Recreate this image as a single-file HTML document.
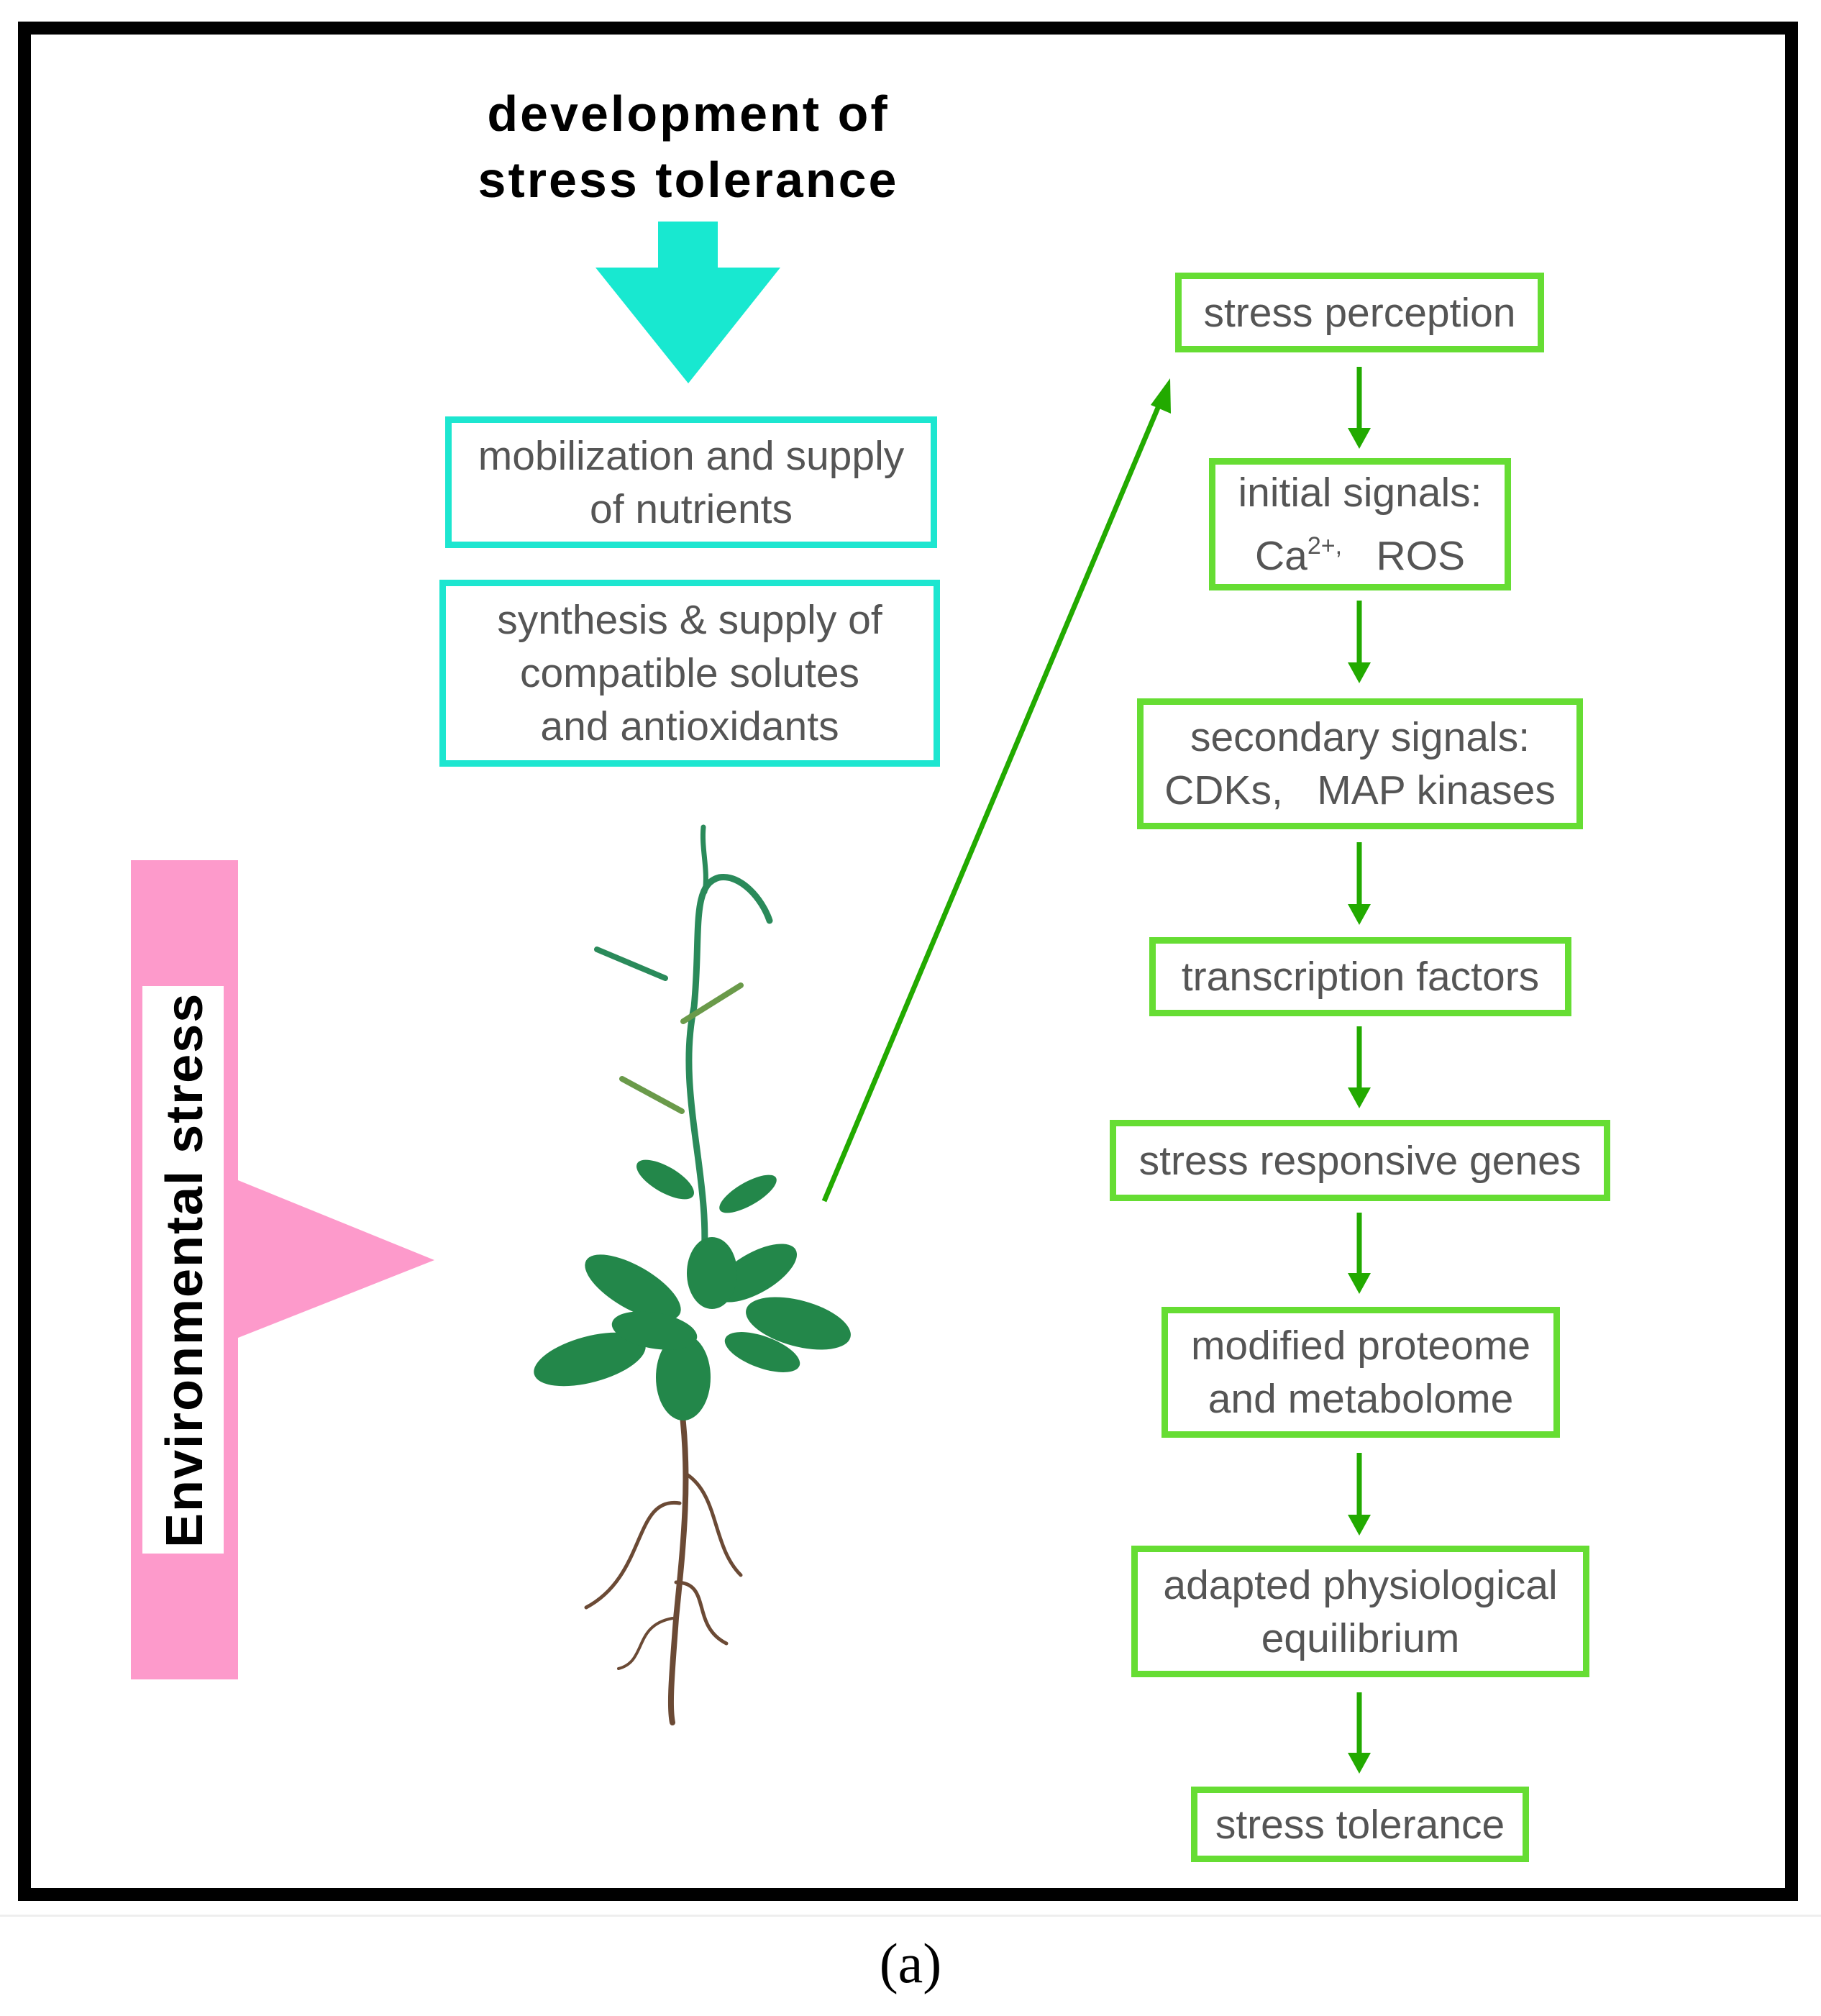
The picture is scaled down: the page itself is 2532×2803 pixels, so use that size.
<!DOCTYPE html>
<html><head><meta charset="utf-8"><style>
body{margin:0;width:2532px;height:2803px;background:#fff;position:relative;overflow:hidden;font-family:"Liberation Sans",Arial,sans-serif}
.a{position:absolute;box-sizing:border-box}
.box{position:absolute;box-sizing:border-box;display:flex;align-items:center;justify-content:center;text-align:center;color:#555;font-size:57px;line-height:74px}
.box>div{white-space:nowrap}
.c{border:9px solid #1de6d0}
.g{border:9px solid #66dd33;font-size:57px}
</style></head><body>
<div class="a" style="left:0;top:2662px;width:2532px;height:3px;background:#eee"></div>
<div class="a" style="left:25px;top:30px;width:2475px;height:2613px;border:18px solid #000"></div>
<div class="a" style="left:507px;top:112px;width:900px;text-align:center;font-weight:bold;font-size:70px;line-height:92px;letter-spacing:3px;color:#000">development of<br>stress tolerance</div>
<svg class="a" style="left:0;top:0" width="2532" height="2803">
<polygon points="915,308 998,308 998,372 1085,372 957,533 828,372 915,372" fill="#18e8d0"/>
<rect x="182" y="1196" width="149" height="1139" fill="#fd9acb"/>
<polygon points="331,1641 604,1752 331,1860" fill="#fd9acb"/>
<rect x="198" y="1371" width="113" height="789" fill="#fff"/>
<text x="0" y="0" transform="translate(281,2152) rotate(-90)" font-family="Liberation Sans" font-weight="bold" font-size="72" letter-spacing="2" fill="#000">Environmental stress</text>
<g stroke="#22aa00" stroke-width="7" fill="#22aa00">
<line x1="1146" y1="1670" x2="1615" y2="555"/>
<polygon points="1627,526 1628,575 1600,563" stroke="none"/>
<g>
<line x1="1890" y1="510" x2="1890" y2="600"/><polygon points="1874,595 1906,595 1890,624" stroke="none"/>
<line x1="1890" y1="835" x2="1890" y2="926"/><polygon points="1874,921 1906,921 1890,950" stroke="none"/>
<line x1="1890" y1="1171" x2="1890" y2="1262"/><polygon points="1874,1257 1906,1257 1890,1286" stroke="none"/>
<line x1="1890" y1="1427" x2="1890" y2="1517"/><polygon points="1874,1512 1906,1512 1890,1541" stroke="none"/>
<line x1="1890" y1="1686" x2="1890" y2="1775"/><polygon points="1874,1770 1906,1770 1890,1799" stroke="none"/>
<line x1="1890" y1="2020" x2="1890" y2="2111"/><polygon points="1874,2106 1906,2106 1890,2135" stroke="none"/>
<line x1="1890" y1="2353" x2="1890" y2="2442"/><polygon points="1874,2437 1906,2437 1890,2466" stroke="none"/>
</g></g>
<g fill="none" stroke-linecap="round">
<path d="M948,1960 C960,2060 950,2150 940,2250 C935,2320 930,2370 935,2395" stroke="#6b4a35" stroke-width="8"/>
<path d="M955,2050 C1000,2080 990,2150 1030,2190" stroke="#6b4a35" stroke-width="5"/>
<path d="M945,2090 C880,2080 900,2190 815,2235" stroke="#6b4a35" stroke-width="5"/>
<path d="M940,2200 C990,2200 960,2260 1010,2285" stroke="#6b4a35" stroke-width="5"/>
<path d="M935,2250 C880,2260 900,2310 860,2320" stroke="#6b4a35" stroke-width="4"/>
<path d="M978,1760 C990,1640 940,1520 965,1400 C975,1300 960,1230 1000,1220 C1030,1215 1060,1250 1070,1280" stroke="#2a8a5a" stroke-width="9"/>
<path d="M978,1150 C975,1180 985,1210 980,1240" stroke="#2a8a5a" stroke-width="7"/>
<path d="M925,1360 L830,1320" stroke="#2a8a5a" stroke-width="8"/>
<path d="M950,1420 L1030,1370" stroke="#6a9a4a" stroke-width="8"/>
<path d="M948,1545 L865,1500" stroke="#6a9a4a" stroke-width="8"/>
</g>
<g fill="#23874a">
<ellipse cx="925" cy="1640" rx="45" ry="18" transform="rotate(30 925 1640)"/>
<ellipse cx="1040" cy="1660" rx="45" ry="16" transform="rotate(-30 1040 1660)"/>
<ellipse cx="880" cy="1790" rx="75" ry="30" transform="rotate(30 880 1790)"/>
<ellipse cx="820" cy="1890" rx="80" ry="32" transform="rotate(-15 820 1890)"/>
<ellipse cx="1110" cy="1840" rx="75" ry="32" transform="rotate(15 1110 1840)"/>
<ellipse cx="1050" cy="1770" rx="65" ry="28" transform="rotate(-30 1050 1770)"/>
<ellipse cx="950" cy="1915" rx="38" ry="60"/>
<ellipse cx="990" cy="1770" rx="35" ry="50"/>
<ellipse cx="910" cy="1850" rx="60" ry="25" transform="rotate(10 910 1850)"/>
<ellipse cx="1060" cy="1880" rx="55" ry="22" transform="rotate(20 1060 1880)"/>
</g>
</svg>
<div class="box c" style="left:619px;top:579px;width:684px;height:183px"><div>mobilization and supply<br>of nutrients</div></div>
<div class="box c" style="left:611px;top:806px;width:696px;height:260px"><div>synthesis &amp; supply of<br>compatible solutes<br>and antioxidants</div></div>
<div class="box g" style="left:1634px;top:379px;width:513px;height:111px"><div>stress perception</div></div>
<div class="box g" style="left:1681px;top:637px;width:420px;height:184px"><div>initial signals:<br>Ca<span style="font-size:34px;vertical-align:22px">2+,</span>&nbsp;&nbsp; ROS</div></div>
<div class="box g" style="left:1581px;top:971px;width:620px;height:182px"><div>secondary signals:<br>CDKs,&nbsp;&nbsp; MAP kinases</div></div>
<div class="box g" style="left:1598px;top:1303px;width:587px;height:110px"><div>transcription factors</div></div>
<div class="box g" style="left:1543px;top:1557px;width:696px;height:113px"><div>stress responsive genes</div></div>
<div class="box g" style="left:1615px;top:1817px;width:554px;height:182px"><div>modified proteome<br>and metabolome</div></div>
<div class="box g" style="left:1573px;top:2149px;width:637px;height:183px"><div>adapted physiological<br>equilibrium</div></div>
<div class="box g" style="left:1656px;top:2484px;width:470px;height:105px"><div>stress tolerance</div></div>
<div class="a" style="left:1066px;top:2680px;width:400px;text-align:center;font-family:'Liberation Serif',serif;font-size:78px;line-height:100px">(a)</div>
</body></html>
